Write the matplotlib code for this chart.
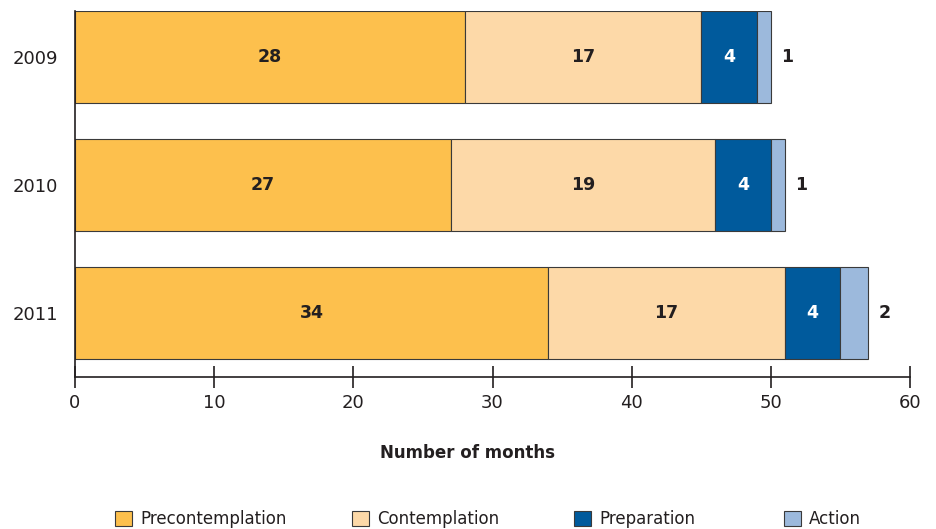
import matplotlib.pyplot as plt
from matplotlib.patches import Patch

years = ['2009', '2010', '2011']
precontemplation = [28, 27, 34]
contemplation = [17, 19, 17]
preparation = [4, 4, 4]
action = [1, 1, 2]

series = [precontemplation, contemplation, preparation, action]
names = ['Precontemplation', 'Contemplation', 'Preparation', 'Action']
colors = ['#FDC04D', '#FDD9A8', '#005A9C', '#9CB9DC']
text_colors = ['#231f20', '#231f20', 'white', None]

fig = plt.figure(figsize=(9.36, 5.29), dpi=100)
ax = fig.add_axes([75/936, 1-377/529, 835/936, 366/529])

pos = list(range(len(years)))
left = [0] * len(years)
for vals, c, tc in zip(series, colors, text_colors):
    ax.barh(pos, vals, left=left, height=0.72, color=c, edgecolor='#3a3a3a', linewidth=0.8)
    for i, v in enumerate(vals):
        if tc is not None:
            ax.text(left[i] + v / 2, pos[i], str(v), ha='center', va='center',
                    fontsize=12.5, fontweight='bold', color=tc)
        else:
            ax.text(left[i] + v + 1.2, pos[i], str(v), ha='center', va='center',
                    fontsize=12.5, fontweight='bold', color='#231f20')
    left = [l + v for l, v in zip(left, vals)]

ax.set_xlim(0, 60)
ax.set_ylim(2.5, -0.36)
ax.set_xticks(range(0, 61, 10))
ax.set_yticks(pos)
ax.set_yticklabels(years)
ax.tick_params(axis='y', length=0, pad=12, labelsize=13, labelcolor='#231f20')
ax.tick_params(axis='x', direction='inout', length=16, width=1.2, pad=4,
               labelsize=13, labelcolor='#231f20', color='#231f20')
for s in ['top', 'right']:
    ax.spines[s].set_visible(False)
for s in ['left', 'bottom']:
    ax.spines[s].set_linewidth(1.2)
    ax.spines[s].set_color('#231f20')

fig.text(0.5, 1-453/529, 'Number of months', ha='center', va='center',
         fontsize=12, fontweight='bold', color='#231f20')

# one legend per entry so each sits where the reference has it
legend_x = [115, 352, 574, 784]
for name, c, lx in zip(names, colors, legend_x):
    h = Patch(facecolor=c, edgecolor='#3a3a3a', linewidth=0.8)
    fig.legend([h], [name], loc='center left', bbox_to_anchor=(lx/936, 1-519/529),
               frameon=False, fontsize=12, labelcolor='#231f20',
               handlelength=1.0, handleheight=1.0, handletextpad=0.5,
               borderaxespad=0, borderpad=0)

fig.savefig('out.png', dpi=100)
